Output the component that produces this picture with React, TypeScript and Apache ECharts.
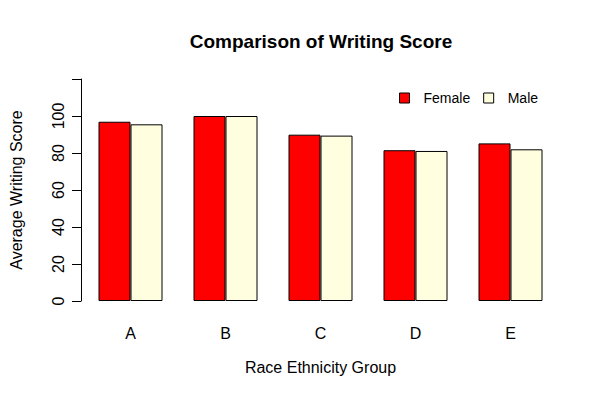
import React, { useEffect, useRef } from "react";
import * as echarts from "echarts";

const groups = ["A", "B", "C", "D", "E"];
const femaleScores = [96.9, 100, 89.9, 81.5, 85.2];
const maleScores = [95.5, 100, 89.4, 81.1, 82.0];
const yTicks = [0, 20, 40, 60, 80, 100];

export default function App() {
  const ref = useRef<HTMLDivElement>(null);
  useEffect(() => {
    const chart = echarts.init(ref.current!, null, { renderer: "svg" });
    const font = "Liberation Sans, Arial, Helvetica, sans-serif";
    chart.setOption({
      animation: false,
      textStyle: { fontFamily: font },
      title: {
        text: "Comparison of Writing Score",
        left: 321,
        textAlign: "center",
        top: 32,
        padding: 0,
        textStyle: { fontFamily: font, fontSize: 19, fontWeight: "bold", color: "#000" },
      },
      legend: {
        data: ["Female", "Male"],
        left: 399,
        top: 91,
        padding: 0,
        itemWidth: 10,
        itemHeight: 10,
        itemGap: 13,
        icon: "rect",
        itemStyle: { borderColor: "#000", borderWidth: 1 },
        textStyle: { fontFamily: font, fontSize: 14, color: "#000", padding: [0, 0, 0, 9] },
      },
      grid: { left: 80, right: 42, top: 79, bottom: 99 },
      xAxis: {
        type: "category",
        data: groups,
        name: "Race Ethnicity Group",
        nameLocation: "middle",
        nameGap: 58,
        nameTextStyle: { fontFamily: font, fontSize: 16, color: "#000" },
        axisLine: { show: false },
        axisTick: { show: false },
        axisLabel: { fontFamily: font, fontSize: 16, color: "#000", margin: 24 },
      },
      yAxis: {
        type: "value",
        min: 0,
        max: 120,
        interval: 20,
        offset: 2,
        name: "Average Writing Score",
        nameLocation: "middle",
        nameGap: 57,
        nameTextStyle: { fontFamily: font, fontSize: 16, color: "#000" },
        splitLine: { show: false },
        axisLine: { show: true, lineStyle: { color: "#000", width: 1 } },
        axisTick: { show: true, length: 9, lineStyle: { color: "#000" } },
        axisLabel: {
          fontFamily: font,
          fontSize: 16,
          color: "#000",
          rotate: 90,
          margin: 15,
          formatter: (v: number) => (yTicks.includes(v) ? String(v) : ""),
        },
      },
      series: [
        {
          name: "Female",
          type: "bar",
          data: femaleScores,
          barWidth: 32,
          barGap: "0%",
          itemStyle: { color: "#FF0000", borderColor: "#000", borderWidth: 1 },
        },
        {
          name: "Male",
          type: "bar",
          data: maleScores,
          barWidth: 32,
          barGap: "0%",
          itemStyle: { color: "#FFFFE0", borderColor: "#000", borderWidth: 1 },
        },
      ],
    });
    return () => chart.dispose();
  }, []);
  return <div ref={ref} style={{ width: 600, height: 400, position: "absolute", left: 0, top: 0 }} />;
}
